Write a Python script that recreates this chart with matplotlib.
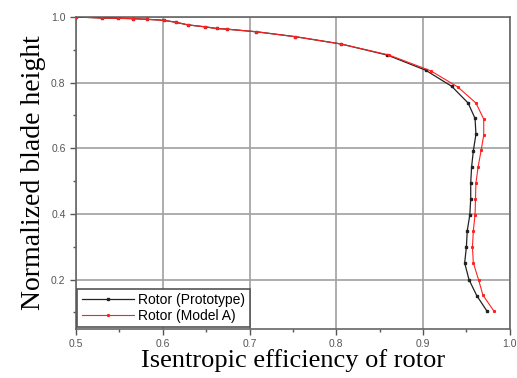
import matplotlib
matplotlib.use("Agg")
import matplotlib.pyplot as plt
from matplotlib.ticker import MultipleLocator

eff_proto = [0.500, 0.530, 0.548, 0.566, 0.582, 0.601, 0.615, 0.629, 0.649, 0.662,
             0.674, 0.708, 0.753, 0.805, 0.859, 0.903, 0.933, 0.952, 0.960, 0.961,
             0.958, 0.956, 0.955, 0.955, 0.954, 0.951, 0.950, 0.948, 0.953, 0.962, 0.974]
h_proto = [1.000, 0.997, 0.996, 0.995, 0.993, 0.990, 0.984, 0.976, 0.970, 0.965,
           0.963, 0.955, 0.940, 0.918, 0.884, 0.838, 0.789, 0.738, 0.691, 0.643,
           0.592, 0.543, 0.494, 0.446, 0.398, 0.349, 0.299, 0.251, 0.200, 0.151, 0.103]

eff_model = [0.500, 0.530, 0.548, 0.566, 0.582, 0.601, 0.615, 0.629, 0.649, 0.662,
             0.674, 0.708, 0.753, 0.805, 0.861, 0.909, 0.940, 0.961, 0.970, 0.970,
             0.967, 0.9635, 0.961, 0.9605, 0.960, 0.958, 0.957, 0.958, 0.964, 0.969, 0.982]
h_model = [1.000, 0.997, 0.996, 0.995, 0.993, 0.990, 0.984, 0.976, 0.970, 0.965,
           0.963, 0.955, 0.940, 0.918, 0.884, 0.836, 0.787, 0.738, 0.689, 0.640,
           0.594, 0.543, 0.494, 0.446, 0.398, 0.349, 0.299, 0.251, 0.200, 0.153, 0.103]

fig = plt.figure(figsize=(5.17, 3.78), dpi=100)
ax = fig.add_axes([0.147, 0.130, 0.839, 0.825])

ax.plot(eff_proto, h_proto, color="#222222", lw=0.9, marker="s", ms=1.5, label="Rotor (Prototype)", zorder=3)
ax.plot(eff_model, h_model, color="#ff2020", lw=0.8, marker="s", ms=1.2, label="Rotor (Model A)", zorder=4)

ax.set_xlim(0.5, 1.0)
ax.set_ylim(0.05, 1.0)
ax.xaxis.set_minor_locator(MultipleLocator(0.05))
ax.yaxis.set_minor_locator(MultipleLocator(0.1))
ax.set_xticks([0.5, 0.6, 0.7, 0.8, 0.9, 1.0])
ax.set_xticklabels(["0.5", "0.6", "0.7", "0.8", "0.9", "1.0"])
ax.set_yticks([0.2, 0.4, 0.6, 0.8, 1.0])
ax.set_yticklabels(["0.2", "0.4", "0.6", "0.8", "1.0"])

ax.grid(True, which="major", color="#a0a0a0", lw=1.2)
ax.tick_params(which="both", direction="out", colors="#555555", labelsize=7.5)
ax.tick_params(which="major", length=4, width=1)
ax.tick_params(which="minor", length=2.5, width=1)
for lab in ax.get_xticklabels() + ax.get_yticklabels():
    lab.set_family("Liberation Sans")
for s in ax.spines.values():
    s.set_color("#666666")
    s.set_linewidth(1.2)

ax.set_xlabel("Isentropic efficiency of rotor", family="Liberation Serif", fontsize=19, labelpad=0)
ax.set_ylabel("Normalized blade height", family="Liberation Serif", fontsize=20, labelpad=4)

leg = ax.legend(loc="lower left", prop={"family": "Liberation Sans", "size": 10},
                fancybox=False, framealpha=1, edgecolor="#555555",
                borderaxespad=0.1, handlelength=3.8, handletextpad=0.3,
                labelspacing=0.15, borderpad=0.3)
leg.get_frame().set_linewidth(1.2)

fig.savefig("out.png", dpi=100)
